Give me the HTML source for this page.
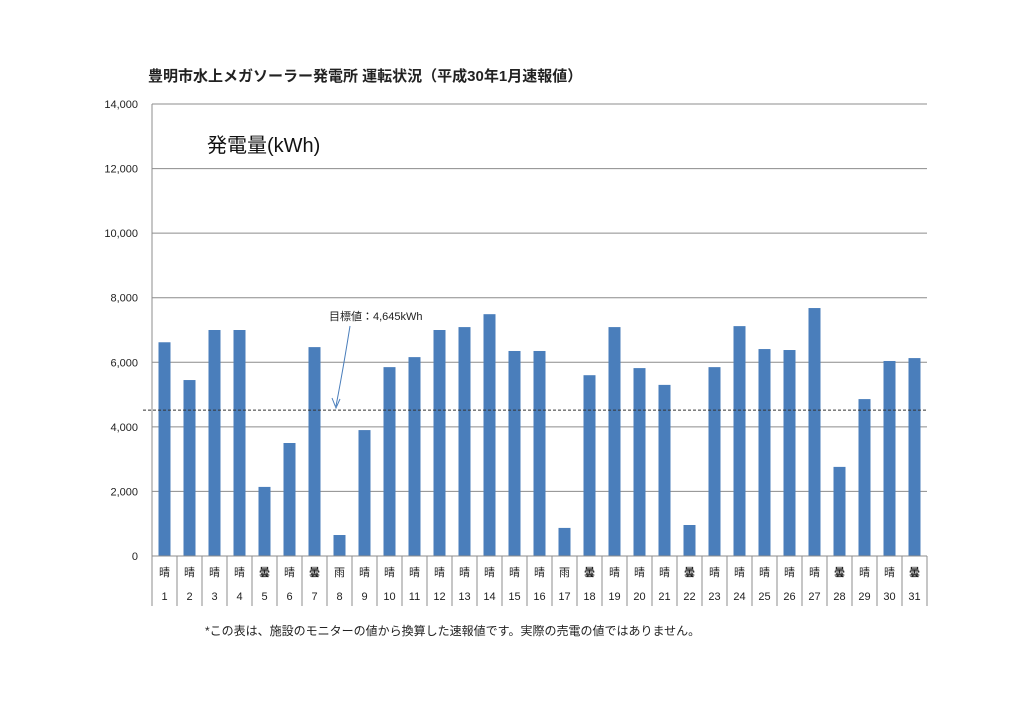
<!DOCTYPE html>
<html><head><meta charset="utf-8"><style>
body{margin:0;background:#fff;width:1024px;height:723px;overflow:hidden;font-family:"Liberation Sans","Noto Sans CJK JP",sans-serif}
</style></head><body>
<svg width="1024" height="723" xmlns="http://www.w3.org/2000/svg" font-family="Liberation Sans, Noto Sans CJK JP, sans-serif">
<g id="g"></g>
</svg>
<script>
const days=["1","2","3","4","5","6","7","8","9","10","11","12","13","14","15","16","17","18","19","20","21","22","23","24","25","26","27","28","29","30","31"];
const weather=["晴","晴","晴","晴","曇","晴","曇","雨","晴","晴","晴","晴","晴","晴","晴","晴","雨","曇","晴","晴","晴","曇","晴","晴","晴","晴","晴","曇","晴","晴","曇"];
const values=[6620,5450,7000,7000,2140,3500,6470,650,3900,5850,6160,7000,7090,7490,6350,6350,870,5600,7090,5820,5300,960,5850,7120,6410,6380,7680,2760,4860,6040,6130];
const yTicks=[0,2000,4000,6000,8000,10000,12000,14000];
const yTickLabels=["0","2,000","4,000","6,000","8,000","10,000","12,000","14,000"];
const targetLine=4520;
const targetLabel="目標値：4,645kWh";
const NS="http://www.w3.org/2000/svg";
const g=document.getElementById('g');
const X0=152,X1=927,Y0=556,Y1=104,YMAX=14000;
const bw=(X1-X0)/days.length;
const y=v=>Y0-(v/YMAX)*(Y0-Y1);
const x=i=>X0+i*bw;
function mk(t,a,txt){const e=document.createElementNS(NS,t);for(const k in a)e.setAttribute(k,a[k]);if(txt!=null)e.textContent=txt;g.appendChild(e);return e;}
let e;
e=mk('text',{x:148,y:81,'font-size':15,'font-weight':'bold',fill:'#222'},"豊明市水上メガソーラー発電所 運転状況（平成30年1月速報値）");


yTicks.forEach((v,i)=>{
 if(v>0){e=mk('line',{x1:X0,x2:X1,y1:y(v),y2:y(v),stroke:'#8c8c8c','stroke-width':1});
 
 }
 e=mk('text',{x:138,y:y(v)+4,'font-size':11,'text-anchor':'end',fill:'#222'},yTickLabels[i]);
 
 
});
e=mk('text',{x:207,y:152,'font-size':20,fill:'#111'},"発電量(kWh)");


e=mk('line',{x1:X0,x2:X0,y1:Y1,y2:Y0,stroke:'#8c8c8c'});


values.forEach((v,i)=>{
 e=mk('rect',{x:x(i)+bw/2-6,y:y(v),width:12,height:Y0-y(v),fill:'#4a7ebb'});
 
 
});
e=mk('line',{x1:143,x2:X1,y1:y(targetLine),y2:y(targetLine),stroke:'#333','stroke-dasharray':'3,2','stroke-width':1});


e=mk('text',{x:329,y:320,'font-size':11,fill:'#222'},targetLabel);


e=mk('path',{d:'M350 326 Q343 370 336 406',fill:'none',stroke:'#4a7ebb','stroke-width':1});


e=mk('path',{d:'M332 398 L336 408 L340 399',fill:'none',stroke:'#4a7ebb','stroke-width':1});


e=mk('line',{x1:X0,x2:X1,y1:Y0,y2:Y0,stroke:'#8c8c8c'});


for(let i=0;i<=days.length;i++){
 e=mk('line',{x1:x(i),x2:x(i),y1:Y0,y2:606,stroke:'#8c8c8c'});
 
 
}
days.forEach((d,i)=>{
 e=mk('text',{x:x(i)+bw/2,y:576,'font-size':11,'text-anchor':'middle',fill:'#222','font-weight':weather[i]=='曇'?'bold':'normal'},weather[i]);
 
 
 e=mk('text',{x:x(i)+bw/2,y:600,'font-size':11,'text-anchor':'middle',fill:'#222'},d);
 
 
});
e=mk('text',{x:205,y:635,'font-size':12,fill:'#222'},"*この表は、施設のモニターの値から換算した速報値です。実際の売電の値ではありません。");


</script>
</body></html>
